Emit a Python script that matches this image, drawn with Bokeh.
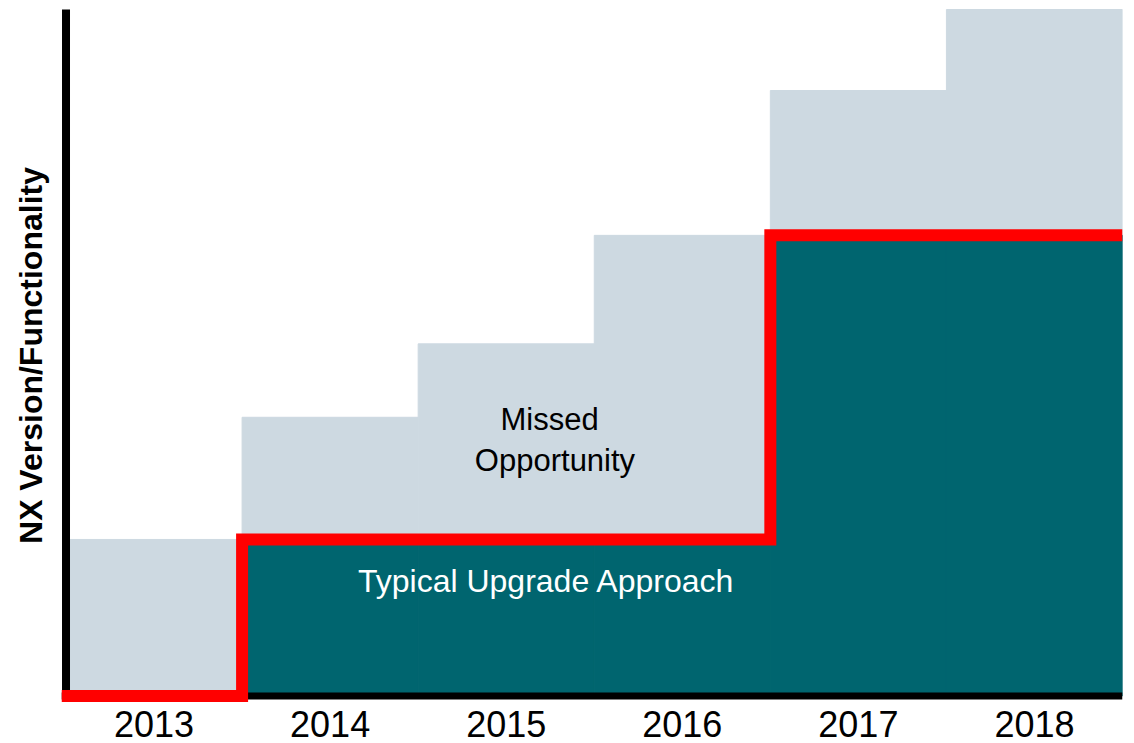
import numpy as np
from bokeh.plotting import figure
from bokeh.models import Range1d, FixedTicker, Label
from bokeh.embed import file_html
from bokeh.resources import INLINE

# ---- data (arbitrary 0-100 functionality scale) ----
years = ["2013", "2014", "2015", "2016", "2017", "2018"]
available = [22.8, 40.6, 51.3, 67.1, 88.2, 100.0]   # latest NX functionality
adopted = [0.0, 22.8, 22.8, 22.8, 67.1, 67.1]       # typical upgrade approach

GRAY = "#CDD9E1"
TEAL = "#00656F"
RED = "#FF0000"
FONT = "Liberation Sans"

idx = np.arange(len(years))
x_start = -0.5256
x_end = len(years) - 0.5
y_start, y_end = -0.95, 100.15

p = figure(width=1126, height=743, output_backend="svg", toolbar_location=None,
           x_range=Range1d(x_start, x_end), y_range=Range1d(y_start, y_end),
           min_border_left=61, min_border_right=4, min_border_top=8, min_border_bottom=41)
p.outline_line_color = None
p.xgrid.visible = False
p.ygrid.visible = False
p.background_fill_color = "white"
p.border_fill_color = "white"

# missed opportunity (light bars)
p.vbar(x=idx, top=available, bottom=0, width=1.0, fill_color=GRAY, line_color=GRAY, line_width=1)
# typical upgrade approach (teal)
p.vbar(x=idx, top=adopted, bottom=0, width=1.0, fill_color=TEAL, line_color=TEAL, line_width=1)

# axis lines drawn as glyphs so the red line can sit on top
p.segment(x0=[x_start], y0=[0], x1=[x_end], y1=[0], line_color="black", line_width=7, line_cap="butt")
p.segment(x0=[-0.5], y0=[-0.52], x1=[-0.5], y1=[max(available)], line_color="black", line_width=8, line_cap="butt")

# red step line along the adopted level
xs = [x_start]
ys = [adopted[0]]
for i in range(1, len(adopted)):
    if adopted[i] != adopted[i - 1]:
        xs += [i - 0.5, i - 0.5]
        ys += [adopted[i - 1], adopted[i]]
xs.append(x_end)
ys.append(adopted[-1])
p.line(x=xs, y=ys, line_color=RED, line_width=12, line_join="miter", line_cap="butt")

# x axis: year labels only
xa = p.xaxis[0]
xa.ticker = FixedTicker(ticks=[int(i) for i in idx])
xa.major_label_overrides = {int(i): y for i, y in zip(idx, years)}
xa.axis_line_color = None
xa.major_tick_line_color = None
xa.minor_tick_line_color = None
xa.major_tick_out = 0
xa.major_tick_in = 0
xa.major_label_standoff = 8
xa.major_label_text_font = FONT
xa.major_label_text_font_size = "36px"
xa.major_label_text_color = "black"

# y axis: label only
ya = p.yaxis[0]
ya.ticker = FixedTicker(ticks=[])
ya.axis_line_color = None
ya.major_tick_line_color = None
ya.minor_tick_line_color = None
ya.major_tick_out = 0
ya.major_tick_in = 0
ya.axis_label = "NX Version/Functionality"
ya.axis_label_text_font = FONT
ya.axis_label_text_font_style = "bold"
ya.axis_label_text_font_size = "32px"
ya.axis_label_text_color = "black"
ya.axis_label_standoff = 13

# annotations
p.add_layout(Label(x=2.246, y=40.28, text="Missed", text_align="center", text_baseline="alphabetic",
                   text_font=FONT, text_font_size="31px", text_color="black"))
p.add_layout(Label(x=2.277, y=34.31, text="Opportunity", text_align="center", text_baseline="alphabetic",
                   text_font=FONT, text_font_size="31px", text_color="black"))
p.add_layout(Label(x=2.229, y=16.78, text="Typical Upgrade Approach", text_align="center",
                   text_baseline="alphabetic", text_font=FONT, text_font_size="32px", text_color="white"))

open("out.html", "w").write(file_html(p, INLINE))
